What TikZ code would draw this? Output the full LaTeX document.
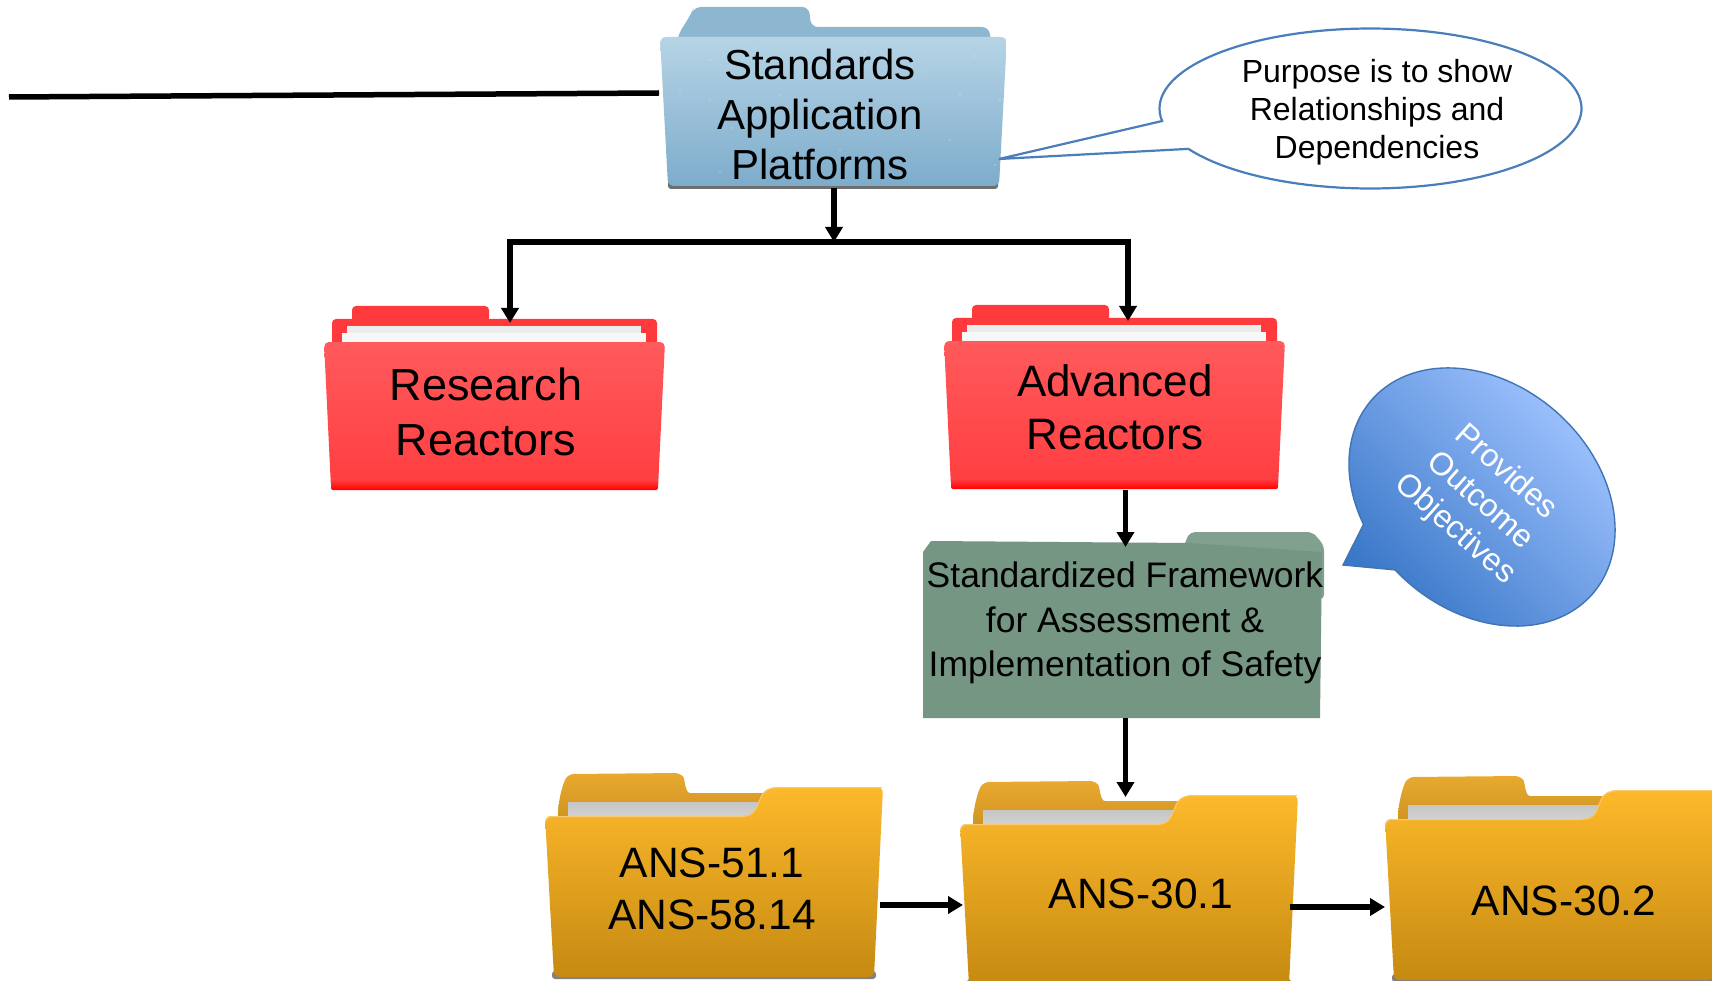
\documentclass[tikz,border=0pt]{standalone}
\usepackage{fontspec}
\setmainfont{Liberation Sans}
\usetikzlibrary{arrows.meta}
\definecolor{callline}{HTML}{4A7EBB}
\definecolor{bubedge}{HTML}{3F74B5}
\definecolor{Rtop}{HTML}{FF5A5C}
\definecolor{Rmid}{HTML}{FF3D40}
\definecolor{Rbot}{HTML}{FF4044}
\definecolor{Rback}{HTML}{FF3A3D}
\definecolor{Ofront}{HTML}{FDB92B}
\definecolor{Omid}{HTML}{E9A822}
\definecolor{Obot}{HTML}{C68A12}
\definecolor{Olight}{HTML}{F7CB72}
\definecolor{Obacktop}{HTML}{E8A92F}
\definecolor{Obackbot}{HTML}{C88D1E}
\tikzset{
  anchorbox/.style={draw=none,fill=none,inner sep=0pt,outer sep=0pt,minimum width=#1},
  conn/.style={draw=black,line width=5.5pt,-{Triangle[length=15pt,width=17pt]}},
  plainconn/.style={draw=black,line width=5.5pt},
  lbl/.style={align=center,inner sep=0pt,text=black},
}
\newcommand{\redfolder}[2]{%
\begin{scope}[shift={(#1,#2)}]
  \fill[Rback,rounded corners=4pt] (28,16) -- (28,0) -- (165,0) -- (165,16) -- cycle;
  \fill[Rback,rounded corners=4pt] (8,40) -- (8,13) -- (333,13) -- (333,40) -- cycle;
  \fill[gray!15] (23,20) rectangle (317,30);
  \fill[gray!6] (18,27) rectangle (322,38);
  \shade[top color=Rtop,bottom color=Rmid,rounded corners=5pt]
    (7,182) -- (0,36) -- (341,36) -- (334,182) -- cycle;
  \shade[top color=Rmid,bottom color=red,rounded corners=2pt] (7,174) -- (334,174) -- (334,184) -- (7,184) -- cycle;
\end{scope}}
\newcommand{\orangefolder}[2]{%
\begin{scope}[shift={(#1,#2)}]
  \fill[black!70,opacity=.7,rounded corners=3pt] (7,198) rectangle (331,206);
  \shade[top color=Obacktop,bottom color=Obackbot,rounded corners=5pt]
    (13,60) -- (13,38) .. controls (15,20) and (19,8) .. (24,1) -- (135,0)
    .. controls (140,6) and (140,20) .. (150,20) -- (235,20) -- (235,60) -- cycle;
  \shade[top color=gray!45,middle color=white,bottom color=gray!35] (23,29) rectangle (222,44);
  \shade[top color=Ofront,middle color=Omid,bottom color=Obot,rounded corners=6pt]
    (9,204) -- (0,43) -- (190,43) .. controls (222,43) and (205,14) .. (240,14) -- (338,14) -- (329,204) -- cycle;
  \draw[Olight,line width=1pt,rounded corners=6pt]
    (0.5,48) -- (1,43.5) -- (190,43.5) .. controls (222,43.5) and (205,14.5) .. (240,14.5) -- (337,14.5);
\end{scope}}
\begin{document}
\begin{tikzpicture}[x=1pt,y=-1pt]
\useasboundingbox (0,0) rectangle (1712,981);
\fill[white] (0,0) rectangle (1712,981);

% ---- Blue folder
\fill[black!70,opacity=.8,rounded corners=3pt] (668,180) rectangle (998,189);
\fill[color={rgb,255:red,141;green,183;blue,209},rounded corners=7pt] (676,50) -- (678,35) -- (691,14) -- (694,7) -- (809,7) -- (811,27) -- (989,27) -- (992,50) -- cycle;
\shade[top color={rgb,255:red,182;green,212;blue,230},bottom color={rgb,255:red,125;green,172;blue,203},rounded corners=6pt]
  (668,186) -- (660,37) -- (1007,37) -- (999,186) -- cycle;
\foreach \p/\q in {690/60,712/128,735/48,760/160,790/66,820/150,845/52,870/112,905/72,930/140,955/56,980/100,975/165,700/172,660/90,880/170,760/95,690/100,940/95}{
  \fill[white,opacity=.35] (\p+20,\q) circle (0.9pt);
}

% ---- Red folders
\redfolder{324}{306}
\redfolder{944}{305}

% ---- Green folder
\fill[color={rgb,255:red,130;green,160;blue,143},rounded corners=5pt] (1180,560) -- (1186,540) -- (1190,532) -- (1312,532) -- (1318,538) -- (1324,546) -- (1324,600) -- cycle;
\fill[color={rgb,255:red,118;green,150;blue,132}] (923,718) -- (923,552) -- (931,541) -- (1190,543) -- (1322,552) -- (1320,718) -- cycle;

% ---- Orange folders
\orangefolder{545}{773}
\orangefolder{960}{781}
\orangefolder{1385}{776}

% ---- Callout
\draw[fill=white,draw=callline,line width=2.2pt]
  plot[domain=171:509.7,samples=120] ({1370.5+211*cos(\x)},{108.5+80*sin(\x)}) -- (999,159) -- cycle;
\node[lbl,font=\fontsize{32}{38}\selectfont] (calltext) at (1377,112.5) {Purpose is to show\\Relationships and\\Dependencies};

% ---- Blue bubble
\shade[draw=bubedge,line width=1.4pt,bottom color={rgb,255:red,58;green,120;blue,200},top color={rgb,255:red,160;green,195;blue,255},shading angle=-45]
  plot[domain=118.6:456.5,samples=120] ({1482+147*cos(\x)*cos(41.6)-113*sin(\x)*sin(41.6)},{497+147*cos(\x)*sin(41.6)+113*sin(\x)*cos(41.6)}) -- (1343,565) -- cycle;
\node[lbl,text=white,rotate=-41.6,font=\fontsize{32}{38}\selectfont] (bubtext) at (1480,501) {Provides\\Outcome\\Objectives};

% ---- Invisible anchors of the folders
\node[anchorbox=350pt,minimum height=151pt] (std) at (834,112.5) {};
\node[anchorbox=341pt,minimum height=167pt] (res) at (494.5,406.5) {};
\node[anchorbox=341pt,minimum height=169pt] (adv) at (1114.5,405.5) {};
\node[anchorbox=401pt,minimum height=171pt] (grn) at (1125.5,632.5) {};
\node[anchorbox=335pt,minimum height=150pt] (ansa) at (712.5,905) {};
\node[anchorbox=327pt,minimum height=184pt] (ansb) at (1126.5,889) {};
\node[anchorbox=327pt,minimum height=150pt] (ansc) at (1548.5,907) {};
\coordinate (lineL) at (9,97);
\coordinate (bus) at (834,242);

% ---- Labels
\node[lbl,font=\fontsize{42}{50}\selectfont] (stdtext) at (820,114) {Standards\\Application\\Platforms};
\node[lbl,font=\fontsize{45}{55}\selectfont] (restext) at (486,412) {Research\\Reactors};
\node[lbl,font=\fontsize{44}{53}\selectfont] (advtext) at (1115,407) {Advanced\\Reactors};
\node[lbl,font=\fontsize{35.5}{44.5}\selectfont] (grntext) at (1125,623) {Standardized Framework\\for Assessment \&\\Implementation of Safety};
\node[lbl,font=\fontsize{42.5}{52}\selectfont] (ansatext) at (712,889) {ANS-51.1\\ANS-58.14};
\node[lbl,font=\fontsize{42.5}{50}\selectfont] (ansbtext) at (1141,894) {ANS-30.1};
\node[lbl,font=\fontsize{42.5}{50}\selectfont] (ansctext) at (1564,901) {ANS-30.2};

% ---- Connectors
\draw[plainconn] (lineL) -- ([yshift=19.5pt]std.west);
\draw[conn] (std.south -| bus) -- (bus);
\draw[conn] (bus) -| ([xshift=15.5pt]res.north);
\draw[conn] (bus) -| ([xshift=13.5pt]adv.north);
\draw[conn] (grn.north |- adv.south) -- (grn.north);
\draw[conn] (grn.south) -- (grn.south |- ansb.north);
\draw[conn] (ansa.east) -- (ansa.east -| ansb.west);
\draw[conn] (ansc.west -| ansb.east) -- (ansc.west);
\end{tikzpicture}
\end{document}
